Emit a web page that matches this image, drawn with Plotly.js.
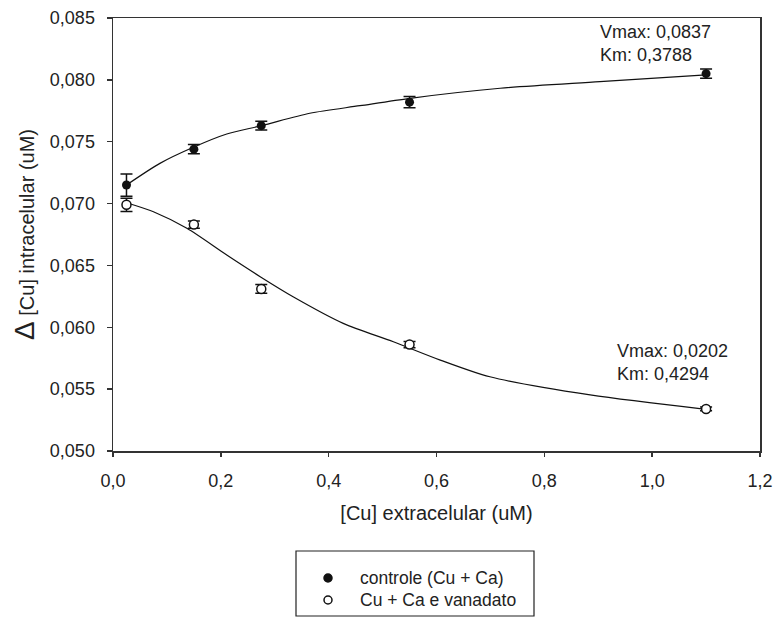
<!DOCTYPE html>
<html>
<head>
<meta charset="utf-8">
<script src="https://cdn.plot.ly/plotly-3.0.1.min.js"></script>
<style>
  html, body { margin: 0; padding: 0; background: #ffffff; }
  #chart { width: 773px; height: 617px; }
</style>
</head>
<body>
<div id="chart"></div>
<script>
// Measured uptake: extracellular Cu (uM) vs change in intracellular Cu (uM)
const cuExtra = [0.025, 0.15, 0.275, 0.55, 1.1];

const controleY   = [0.0715, 0.0744, 0.0763, 0.0782, 0.0805];
const controleErr = [0.0009, 0.00038, 0.00036, 0.00045, 0.00038];

const vanadatoY   = [0.0699, 0.0683, 0.0631, 0.0586, 0.0534];
const vanadatoErr = [0.00054, 0.0003, 0.00035, 0.00025, 0.00015];

// Fitted curves, sampled along x
const fitControleX = [0.025, 0.087, 0.149, 0.211, 0.276, 0.365, 0.458, 0.551, 0.718, 0.903, 1.1];
const fitControleY = [0.0715, 0.07325, 0.07455, 0.07562, 0.0763, 0.0773, 0.07791, 0.07851, 0.07932, 0.07985, 0.0804];

const fitVanadatoX = [0.025, 0.075, 0.137, 0.211, 0.273, 0.334, 0.427, 0.52, 0.607, 0.699, 0.885, 1.1];
const fitVanadatoY = [0.07007, 0.06934, 0.0680, 0.06584, 0.06409, 0.06247, 0.06032, 0.05883, 0.05735, 0.0560, 0.05453, 0.05337];

// Fit parameters printed beside each curve
const fitLabels = [
  { text: 'Vmax: 0,0837<br>Km: 0,3788', x: 0.8995, y: 0.08294 },
  { text: 'Vmax: 0,0202<br>Km: 0,4294', x: 0.931,  y: 0.05719 }
];

const seriesNames = ['controle (Cu + Ca)', 'Cu + Ca e vanadato'];

const FONT = 'Liberation Sans, Arial, sans-serif';
const INK = '#111111';
const TEXT = '#222222';

// plot frame in pixels, used to place the key below the axes
const W = 773, H = 617;
const M = { l: 113, r: 13, t: 18, b: 166 };
const plotW = W - M.l - M.r, plotH = H - M.t - M.b;
const px = v => (v - M.l) / plotW;
const py = v => (H - M.b - v) / plotH;

const traces = [
  {
    x: fitControleX, y: fitControleY, mode: 'lines', type: 'scatter',
    line: { color: INK, width: 1.2, shape: 'spline', smoothing: 0.8 },
    showlegend: false, hoverinfo: 'skip'
  },
  {
    x: fitVanadatoX, y: fitVanadatoY, mode: 'lines', type: 'scatter',
    line: { color: INK, width: 1.2, shape: 'spline', smoothing: 0.8 },
    showlegend: false, hoverinfo: 'skip'
  },
  {
    x: cuExtra, y: controleY, mode: 'markers', type: 'scatter', name: seriesNames[0],
    marker: { symbol: 'circle', size: 9, color: INK },
    error_y: { type: 'data', array: controleErr, visible: true, color: INK, thickness: 1.5, width: 6 }
  },
  {
    x: cuExtra, y: vanadatoY, mode: 'markers', type: 'scatter', name: seriesNames[1],
    marker: { symbol: 'circle', size: 9, color: '#ffffff', line: { color: INK, width: 1.5 } },
    error_y: { type: 'data', array: vanadatoErr, visible: true, color: INK, thickness: 1.5, width: 6 }
  }
];

// small square handles along the frame
function handle(xv, yv, dx0, dx1, dy0, dy1) {
  return {
    type: 'rect', xref: 'x', yref: 'y',
    xsizemode: 'pixel', ysizemode: 'pixel',
    xanchor: xv, yanchor: yv,
    x0: dx0, x1: dx1, y0: dy0, y1: dy1,
    fillcolor: '#000000', line: { width: 0 }, layer: 'above'
  };
}

// key symbol: a small circle at a pixel position
function keySymbol(cx, cy, filled) {
  return {
    type: 'circle', xref: 'paper', yref: 'paper',
    xsizemode: 'pixel', ysizemode: 'pixel',
    xanchor: px(cx), yanchor: py(cy),
    x0: -4, x1: 4, y0: -4, y1: 4,
    fillcolor: filled ? INK : '#ffffff',
    line: { color: INK, width: 1.5 }
  };
}

const keyRows = [578, 600];

const shapes = [
  handle(0, 0.085, -5, 0, 0, 5),
  handle(0.6, 0.085, -2.5, 2.5, 0, 5),
  handle(1.2, 0.085, 0.5, 5.5, 0, 5),
  handle(0, 0.0675, -5, 0, -2.5, 2.5),
  handle(1.2, 0.0675, 0.5, 5.5, -2.5, 2.5),
  handle(0, 0.050, -5, 0, -5.5, -0.5),
  handle(1.2, 0.050, 0.5, 5.5, -5.5, -0.5),
  // key frame
  {
    type: 'rect', xref: 'paper', yref: 'paper',
    x0: px(296), x1: px(534), y0: py(616), y1: py(551),
    line: { color: '#222222', width: 1.2 }, fillcolor: 'rgba(0,0,0,0)'
  },
  keySymbol(328, keyRows[0], true),
  keySymbol(328, keyRows[1], false)
];

const annotations = fitLabels.map(l => ({
  text: l.text, x: l.x, y: l.y, xref: 'x', yref: 'y',
  xanchor: 'left', yanchor: 'middle', align: 'left', showarrow: false,
  font: { family: FONT, size: 18, color: TEXT }
}));

seriesNames.forEach((name, i) => {
  annotations.push({
    text: name, xref: 'paper', yref: 'paper',
    x: px(359), y: py(keyRows[i]), xanchor: 'left', yanchor: 'middle',
    showarrow: false, borderpad: 0, font: { family: FONT, size: 17.5, color: TEXT }
  });
});

const layout = {
  width: W, height: H,
  margin: { l: M.l, r: M.r, t: M.t, b: M.b, autoexpand: false },
  paper_bgcolor: '#ffffff', plot_bgcolor: '#ffffff',
  separators: ', ',
  font: { family: FONT, size: 18, color: TEXT },
  showlegend: false,
  xaxis: {
    range: [0, 1.2], tickvals: [0, 0.2, 0.4, 0.6, 0.8, 1.0, 1.2], tickformat: '.1f',
    showline: true, linecolor: '#333333', linewidth: 1.5, mirror: true,
    ticks: 'outside', ticklen: 4, tickwidth: 1.5, tickcolor: '#333333',
    ticklabelstandoff: 9,
    showgrid: false, zeroline: false,
    tickfont: { family: FONT, size: 18, color: TEXT },
    title: { text: '[Cu] extracelular (uM)', font: { family: FONT, size: 20, color: TEXT }, standoff: 16 }
  },
  yaxis: {
    range: [0.050, 0.085], dtick: 0.005, tick0: 0.050, tickformat: '.3f',
    showline: true, linecolor: '#333333', linewidth: 1.5, mirror: true,
    ticks: 'outside', ticklen: 5, tickwidth: 1.5, tickcolor: '#333333',
    ticklabelstandoff: 8,
    showgrid: false, zeroline: false,
    tickfont: { family: FONT, size: 18, color: TEXT },
    title: { text: '<span style="font-size:28px">Δ</span> [Cu] intracelular (uM)', font: { family: FONT, size: 20, color: TEXT }, standoff: 10 }
  },
  shapes: shapes,
  annotations: annotations
};

Plotly.newPlot('chart', traces, layout, { displayModeBar: false, staticPlot: true });
</script>
</body>
</html>
